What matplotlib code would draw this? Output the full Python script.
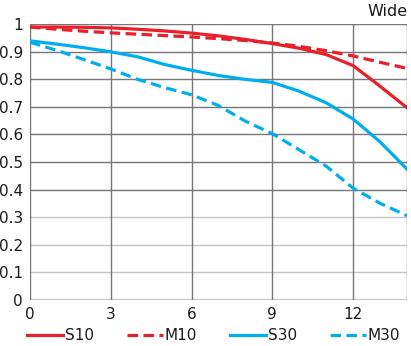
import numpy as np
import matplotlib
matplotlib.use('Agg')
import matplotlib.pyplot as plt

plt.rcParams['font.family'] = ['DejaVu Sans']

# image height (mm)
heights = [0, 1, 2, 3, 4, 5, 6, 7, 8, 9, 10, 11, 12, 13, 14]

s10 = [0.99, 0.99, 0.989, 0.987, 0.982, 0.976, 0.968, 0.958, 0.945, 0.93, 0.913, 0.89, 0.85, 0.775, 0.697]
m10 = [0.99, 0.982, 0.975, 0.969, 0.964, 0.959, 0.954, 0.948, 0.941, 0.932, 0.92, 0.904, 0.885, 0.862, 0.84]
s30 = [0.94, 0.928, 0.915, 0.90, 0.882, 0.854, 0.833, 0.814, 0.80, 0.789, 0.757, 0.715, 0.656, 0.573, 0.474]
m30 = [0.935, 0.905, 0.872, 0.838, 0.80, 0.77, 0.744, 0.705, 0.648, 0.603, 0.544, 0.485, 0.405, 0.35, 0.305]

x_ticks = [0, 3, 6, 9, 12]
y_ticks = [0, 0.1, 0.2, 0.3, 0.4, 0.5, 0.6, 0.7, 0.8, 0.9, 1]
y_labels = ['0', '0.1', '0.2', '0.3', '0.4', '0.5', '0.6', '0.7', '0.8', '0.9', '1']

RED = '#e8202a'
BLUE = '#00aeef'
DARK = '#767676'
LIGHT = '#c4c4c4'
TXT = '#1a1a1a'

fig = plt.figure(figsize=(4.11, 3.46), dpi=100)
ax = fig.add_axes([30/411, 1 - 299.7/346, 377/411, 275.4/346])

ax.set_xlim(0, 14)
ax.set_ylim(0, 1)

# grid: upper lines dark, lower ones light
for yv in y_ticks:
    c = DARK if yv >= 0.4 else LIGHT
    lw = 1.6 if yv == 0 else 1.0
    ax.axhline(yv, color=c, lw=lw, zorder=1)
for xv in x_ticks + [14]:
    ax.axvline(xv, color=DARK, lw=1.0, zorder=1)

lw = 2.3
dash = (3.3, 1.7)
l1, = ax.plot(heights, s10, color=RED, lw=lw, label='S10', zorder=3)
l2, = ax.plot(heights, m10, color=RED, lw=lw, ls=(0, dash), label='M10', zorder=3)
l3, = ax.plot(heights, s30, color=BLUE, lw=lw, label='S30', zorder=3)
l4, = ax.plot(heights, m30, color=BLUE, lw=lw, ls=(0, dash), label='M30', zorder=3)

for s in ax.spines.values():
    s.set_visible(False)

ax.set_xticks(x_ticks)
ax.set_yticks(y_ticks)
ax.set_yticklabels(y_labels)
ax.tick_params(length=0, labelsize=11, colors=TXT, pad=5)

fig.text(408/411, 1 - 11/346, 'Wide', ha='right', va='center', fontsize=11.5, color=TXT)

leg = fig.legend(handles=[l1, l2, l3, l4], loc='center left', bbox_to_anchor=(27/411, 1 - 336/346),
                 ncol=4, frameon=False, fontsize=11, handlelength=2.35, handletextpad=0.13,
                 columnspacing=2.15, borderpad=0, borderaxespad=0)
for t in leg.get_texts():
    t.set_color(TXT)

plt.savefig('out.png', dpi=100)
